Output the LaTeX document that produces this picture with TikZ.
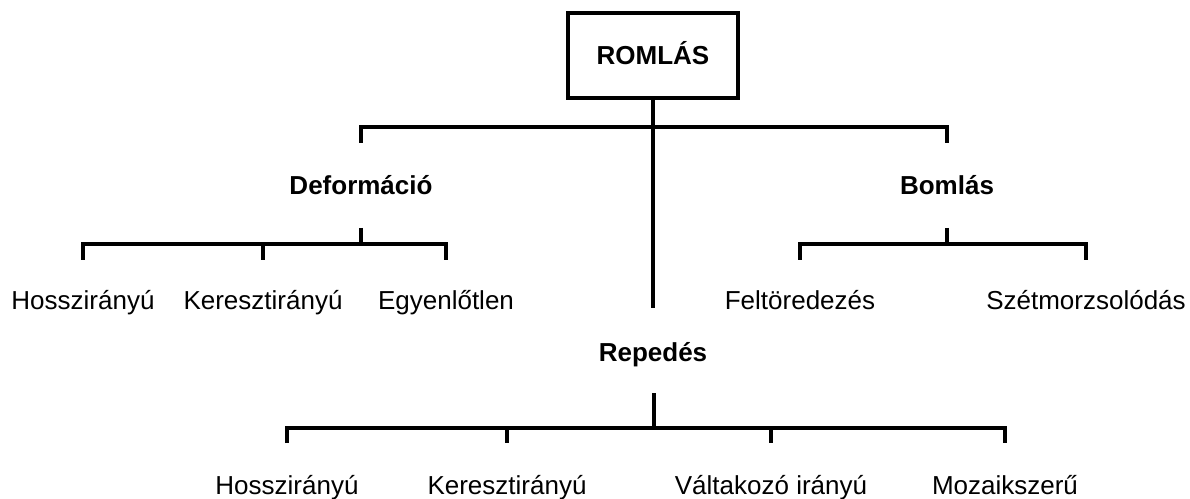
\documentclass[tikz,border=0pt]{standalone}
\usepackage{fontspec}
\setmainfont{Liberation Sans}
\begin{document}
\begin{tikzpicture}[x=0.75pt,y=-0.75pt,
  conn/.style={line width=3pt, line join=miter},
  lbl/.style={font=\fontsize{19.5}{23}\selectfont, anchor=base, inner sep=0pt},
  head/.style={font=\fontsize{19.5}{23}\selectfont\bfseries, anchor=base, inner sep=0pt},
  boxnode/.style={draw, line width=3pt, minimum width=127.5pt, minimum height=63.75pt,
    inner sep=0pt, text height=14pt, text depth=0pt, font=\fontsize{19.5}{23}\selectfont\bfseries}]
\useasboundingbox (0,0) rectangle (1190,499);
% root
\node[boxnode] (romlas) at (653,55.5) {ROMLÁS};
% headings
\node[head] (deform) at (361,195) {Deformáció};
\node[head] (bomlas) at (947,195) {Bomlás};
\node[head] (repedes) at (653,361) {Repedés};
% top-row leaves
\node[lbl] (d1) at (83,310) {Hosszirányú};
\node[lbl] (d2) at (263,310) {Keresztirányú};
\node[lbl] (d3) at (446,310) {Egyenlőtlen};
\node[lbl] (b1) at (800,310) {Feltöredezés};
\node[lbl] (b2) at (1086,310) {Szétmorzsolódás};
% bottom-row leaves
\node[lbl] (r1) at (287,494) {Hosszirányú};
\node[lbl] (r2) at (507,494) {Keresztirányú};
\node[lbl] (r3) at (771,494) {Váltakozó irányú};
\node[lbl] (r4) at (1005,494) {Mozaikszerű};
% coordinates
\coordinate (rootend) at (653,308);
\coordinate (tA) at (361,143); \coordinate (tB) at (947,143);
\coordinate (dS) at (361,228); \coordinate (bS) at (947,228);
\coordinate (rS) at (654,393);
% root connectors
\draw[conn] (romlas.south) -- (rootend);
\draw[conn] (tA) -- (361,127) -- (947,127) -- (tB);
% Deformáció bracket
\draw[conn] (dS) -- (361,244);
\draw[conn] (83,260) -- (83,244) -- (446,244) -- (446,260);
\draw[conn] (263,244) -- (263,260);
% Bomlás bracket
\draw[conn] (bS) -- (947,244);
\draw[conn] (800,260) -- (800,244) -- (1086,244) -- (1086,260);
% Repedés bracket
\draw[conn] (rS) -- (654,428);
\draw[conn] (287,443) -- (287,428) -- (1005,428) -- (1005,443);
\draw[conn] (507,428) -- (507,443);
\draw[conn] (771,428) -- (771,443);
\end{tikzpicture}
\end{document}
